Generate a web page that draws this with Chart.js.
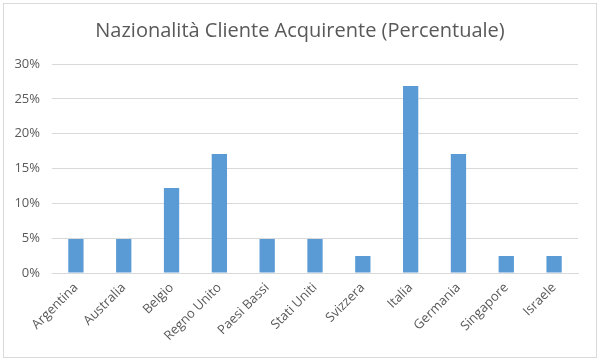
<!DOCTYPE html>
<html><head><meta charset="utf-8">
<script src="https://cdn.jsdelivr.net/npm/chart.js@4/dist/chart.umd.min.js"></script>
<style>html,body{margin:0;padding:0;background:#fff}#wrap{width:600px;height:362px;position:relative}</style>
</head><body><div id="wrap"><canvas id="c" width="600" height="362"></canvas></div>
<script>
const chartTitle = "Nazionalità Cliente Acquirente (Percentuale)";
const categories = ["Argentina","Australia","Belgio","Regno Unito","Paesi Bassi","Stati Uniti","Svizzera","Italia","Germania","Singapore","Israele"];
const percentValues = [4.88,4.88,12.2,17.07,4.88,4.88,2.44,26.83,17.07,2.44,2.44];
const yTicks = [0,5,10,15,20,25,30];

const framePlugin = {
  id: 'frameAndTitle',
  beforeDraw(chart) {
    const ctx = chart.ctx;
    ctx.save();
    ctx.fillStyle = '#fff';
    ctx.fillRect(0,0,chart.width,chart.height);
    ctx.strokeStyle = '#d9d9d9';
    ctx.lineWidth = 1;
    ctx.strokeRect(3.5,3.5,593,354);
    ctx.restore();
  },
  afterDraw(chart) {
    const ctx = chart.ctx;
    ctx.save();
    ctx.fillStyle = '#595959';
    ctx.font = '20px "Open Sans"';
    ctx.textAlign = 'center';
    ctx.textBaseline = 'alphabetic';
    ctx.fillText(chartTitle, chart.width / 2, 37);
    ctx.restore();
  }
};

new Chart(document.getElementById('c'), {
  type: 'bar',
  data: { labels: categories, datasets: [{ data: percentValues, backgroundColor: '#5b9bd5', borderWidth: 0, categoryPercentage: 1, barPercentage: 0.32 }] },
  options: {
    responsive: false, animation: false,
    layout: { padding: { left: 0, right: 22, top: 64, bottom: 0 } },
    plugins: {
      legend: { display: false }, tooltip: { enabled: false }, title: { display: false }
    },
    scales: {
      x: {
        grid: { display: false, drawTicks: false },
        border: { display: true, color: '#d9d9d9' },
        ticks: { color: '#595959', font: { family: 'Open Sans', size: 13 }, minRotation: 45, maxRotation: 45, autoSkip: false, padding: 7 },
        afterFit(s) { s.height = 89; }
      },
      y: {
        min: 0, max: 30,
        afterBuildTicks(s) { s.ticks = yTicks.map(v => ({ value: v })); },
        grid: { color: '#d9d9d9', drawTicks: false },
        border: { display: false },
        ticks: { color: '#595959', font: { family: 'Open Sans', size: 13 }, padding: 12, callback: v => v + '%' },
        afterFit(s) { s.width = 52; }
      }
    }
  },
  plugins: [framePlugin]
});
</script></body></html>
